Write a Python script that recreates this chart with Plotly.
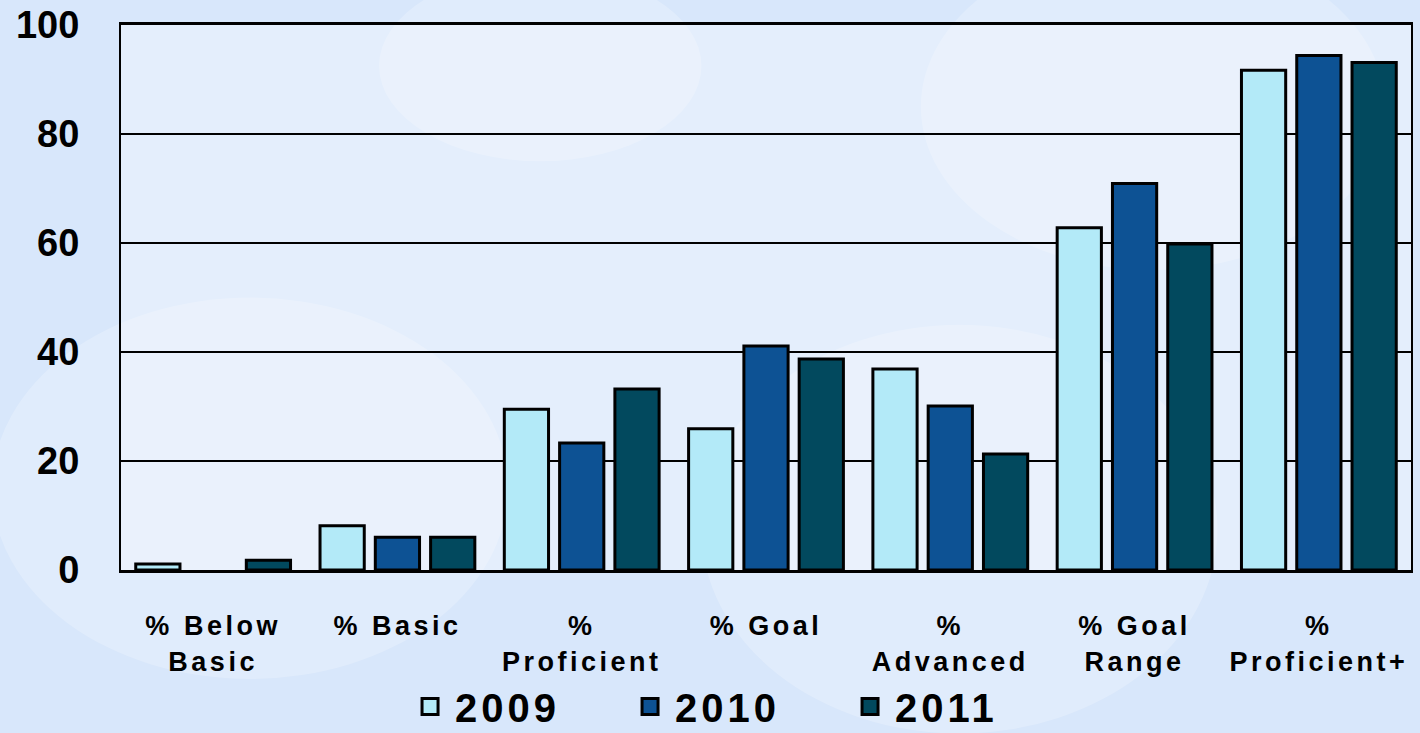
import plotly.graph_objects as go

categories = ["% Below<br>Basic", "% Basic", "%<br>Proficient", "% Goal",
              "%<br>Advanced", "% Goal<br>Range", "%<br>Proficient+"]
years = ["2009", "2010", "2011"]
v2009 = [1.1, 8.1, 29.5, 25.9, 36.9, 62.8, 91.7]
v2010 = [0.0, 6.0, 23.3, 41.1, 30.1, 70.9, 94.4]
v2011 = [1.8, 6.0, 33.2, 38.7, 21.3, 59.8, 93.1]
colors = ["#b3eaf8", "#0d5294", "#02495e"]
ytick_vals = [0, 20, 40, 60, 80, 100]

font_family = "Liberation Sans, Arial, sans-serif"

fig = go.Figure()
for name, vals, col in zip(years, [v2009, v2010, v2011], colors):
    fig.add_trace(go.Bar(
        x=categories, y=vals, name=name, showlegend=False,
        marker=dict(color=col,
                    line=dict(color="black", width=[3 if v > 0 else 0 for v in vals])),
    ))
# legend entries with larger square swatches
for name, col in zip(years, colors):
    fig.add_trace(go.Scatter(
        x=[None], y=[None], mode="markers", name=name,
        marker=dict(symbol="square", size=16, color=col,
                    line=dict(color="black", width=3)),
    ))

# faint decorative background shapes
deco = [
    dict(x0=0.62, y0=0.55, x1=0.98, y1=1.15),
    dict(x0=0.2, y0=0.75, x1=0.45, y1=1.1),
    dict(x0=-0.1, y0=-0.2, x1=0.3, y1=0.5),
    dict(x0=0.45, y0=-0.3, x1=0.85, y1=0.45),
]
shapes = []
for d in deco:
    shapes.append(dict(type="circle", xref="paper", yref="paper", layer="below",
                       fillcolor="rgba(255,255,255,0.22)", line=dict(width=0), **d))

fig.update_layout(
    width=1420, height=733,
    margin=dict(l=121, r=9, t=25, b=163, autoexpand=False),
    paper_bgcolor="#d8e7fb",
    plot_bgcolor="rgba(240,246,254,0.5)",
    barmode="group", bargap=0.1, bargroupgap=0.2,
    font=dict(family=font_family, color="black"),
    showlegend=True,
    legend=dict(orientation="h", x=0.476, xanchor="center", xref="paper",
                y=-0.31, yanchor="bottom", yref="paper",
                font=dict(size=40, family=font_family, weight="bold"),
                bgcolor="rgba(0,0,0,0)", itemwidth=40, tracegroupgap=0,
                entrywidth=165, entrywidthmode="pixels", itemsizing="trace"),
    xaxis=dict(showline=True, linecolor="black", linewidth=3, mirror=True,
               automargin=False,
               ticks="", tickfont=dict(size=27, weight="bold", family=font_family),
               ticklabelstandoff=30),
    yaxis=dict(range=[0, 100], tickvals=ytick_vals, showgrid=True,
               gridcolor="black", gridwidth=2, showline=True, linecolor="black",
               linewidth=2, mirror=True, ticks="", zeroline=False, automargin=False,
               tickfont=dict(size=38, weight="bold", family=font_family),
               ticklabelstandoff=32),
    shapes=shapes,
)

post = """
document.body.style.margin='0';
document.body.style.background='#d8e7fb';
var gd=document.getElementById('{plot_id}');
function sp(){
  gd.querySelectorAll('.xtick text').forEach(function(t){t.style.letterSpacing='3.5px';});
  gd.querySelectorAll('.legendtext').forEach(function(t){t.style.letterSpacing='4px';});
}
sp();
gd.on('plotly_afterplot', sp);
"""

fig.write_html("out.html", post_script=post, config={"displayModeBar": False})
